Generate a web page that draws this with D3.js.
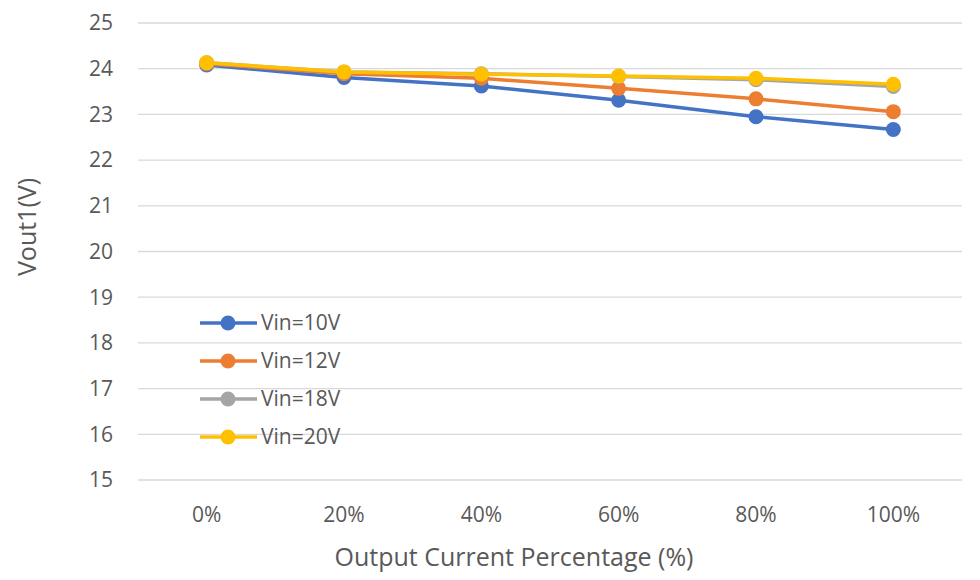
<!DOCTYPE html>
<html><head><meta charset="utf-8">
<script src="https://cdn.jsdelivr.net/npm/d3@7"></script>
<style>body{margin:0;background:#fff;} text{font-family:"Open Sans",sans-serif;fill:#595959;}</style>
</head><body><svg id="c" width="980" height="580"></svg>
<script>
const categories = ["0%","20%","40%","60%","80%","100%"];
const seriesNames = ["Vin=10V","Vin=12V","Vin=18V","Vin=20V"];
const vin10 = [24.08,23.81,23.62,23.31,22.95,22.67];
const vin12 = [24.11,23.89,23.79,23.57,23.34,23.06];
const vin18 = [24.13,23.93,23.89,23.83,23.76,23.61];
const vin20 = [24.13,23.93,23.88,23.84,23.79,23.66];
const yTicks = [15,16,17,18,19,20,21,22,23,24,25];
const colors = ["#4472C4","#ED7D31","#A5A5A5","#FFC000"];
const series = [vin10,vin12,vin18,vin20];

const svg = d3.select("#c");
const x = d3.scaleBand().domain(categories).range([138,962]);
const y = d3.scaleLinear().domain([15,25]).range([480,23]);

// gridlines
svg.append("g").selectAll("line").data(yTicks).join("line")
  .attr("x1",138).attr("x2",962).attr("y1",d=>y(d)).attr("y2",d=>y(d))
  .attr("stroke","#D9D9D9").attr("stroke-width",1.3);

// y tick labels
svg.append("g").selectAll("text").data(yTicks).join("text")
  .attr("x",113).attr("y",d=>y(d)).attr("dy","0.35em").attr("text-anchor","end")
  .attr("font-size",21).text(d=>d);

// x tick labels
svg.append("g").selectAll("text").data(categories).join("text")
  .attr("x",d=>x(d)+x.bandwidth()/2).attr("y",515).attr("dy","0.35em").attr("text-anchor","middle")
  .attr("font-size",21).text(d=>d);

// axis titles
svg.append("text").attr("transform","translate(27,227) rotate(-90)").attr("text-anchor","middle")
  .attr("dy","0.35em").attr("font-size",25).text("Vout1(V)");
svg.append("text").attr("x",514).attr("y",557).attr("text-anchor","middle")
  .attr("dy","0.35em").attr("font-size",25).text("Output Current Percentage (%)");

const line = d3.line().x((d,i)=>x(categories[i])+x.bandwidth()/2).y(d=>y(d));
series.forEach((s,k)=>{
  const g = svg.append("g");
  g.append("path").datum(s).attr("d",line).attr("fill","none")
    .attr("stroke",colors[k]).attr("stroke-width",3.5).attr("stroke-linejoin","round");
  g.selectAll("circle").data(s).join("circle")
    .attr("cx",(d,i)=>x(categories[i])+x.bandwidth()/2).attr("cy",d=>y(d)).attr("r",7.5)
    .attr("fill",colors[k]);
});

// legend
const lg = svg.append("g");
seriesNames.forEach((n,k)=>{
  const yy = 323 + k*38;
  lg.append("line").attr("x1",200).attr("x2",257).attr("y1",yy).attr("y2",yy)
    .attr("stroke",colors[k]).attr("stroke-width",3.5);
  lg.append("circle").attr("cx",228).attr("cy",yy).attr("r",7.5).attr("fill",colors[k]);
  lg.append("text").attr("x",261).attr("y",yy).attr("dy","0.35em").attr("font-size",21).text(n);
});
</script></body></html>
